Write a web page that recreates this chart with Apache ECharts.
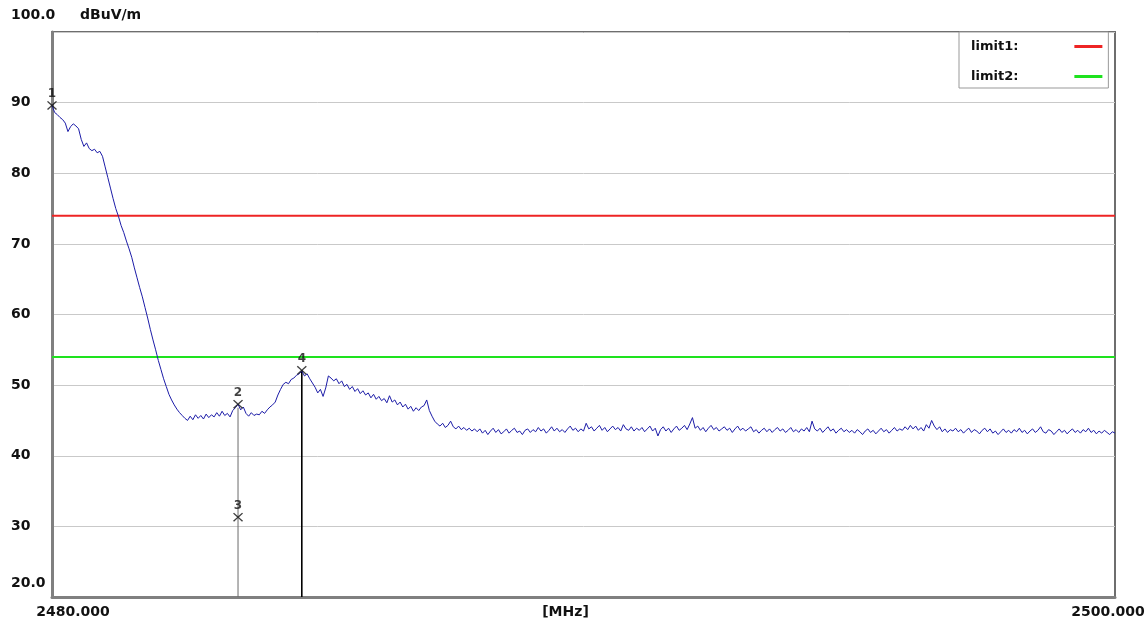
<!DOCTYPE html>
<html>
<head>
<meta charset="utf-8">
<script src="https://cdn.jsdelivr.net/npm/echarts@6/dist/echarts.min.js"></script>
<style>
html,body{margin:0;padding:0;background:#fff;}
#chart{width:1147px;height:625px;}
</style>
</head>
<body>
<div id="chart"></div>
<script>
// ---- data ----
const FREQ_START = 2480.0;   // MHz, first sweep point
const FREQ_STEP = 0.05;      // MHz between sweep points
const FREQ_MIN = 2480, FREQ_MAX = 2500;
const LEVEL_MIN = 20, LEVEL_MAX = 100;

const traceLevels = [
 89.6,88.6,88.3,87.9,87.6,87.1,85.9,86.6,87.0,86.7,86.3,84.8,83.8,84.3,83.5,83.2,83.4,82.9,83.1,82.4,
 80.9,79.4,77.9,76.4,75.0,73.9,72.6,71.6,70.4,69.3,68.1,66.6,65.2,63.8,62.5,61.0,59.5,57.9,56.4,55.0,
 53.5,52.2,50.9,49.8,48.7,47.9,47.2,46.6,46.1,45.7,45.3,45.0,45.6,45.1,45.8,45.3,45.7,45.2,45.9,45.4,
 45.8,45.5,46.1,45.6,46.3,45.7,46.0,45.5,46.4,46.8,47.3,46.5,46.9,46.0,45.6,46.1,45.7,45.9,45.8,46.3,
 46.0,46.5,46.9,47.2,47.6,48.6,49.4,50.1,50.4,50.2,50.8,51.0,51.4,51.6,52.0,51.3,51.6,50.9,50.3,49.7,
 48.9,49.4,48.4,49.6,51.3,51.0,50.6,50.9,50.2,50.6,49.8,50.1,49.4,49.8,49.1,49.5,48.8,49.2,48.6,48.9,
 48.2,48.7,48.0,48.4,47.8,48.1,47.5,48.5,47.6,47.9,47.2,47.6,46.9,47.3,46.6,47.0,46.3,46.8,46.4,46.9,
 47.1,47.9,46.4,45.6,44.9,44.5,44.2,44.6,44.0,44.3,44.9,44.1,43.8,44.2,43.7,44.0,43.6,43.9,43.5,43.8,
 43.4,
 43.8,43.2,43.6,43.0,43.5,43.9,43.3,43.7,43.1,43.4,43.8,43.2,43.6,43.9,43.3,43.5,43.0,43.6,43.8,43.3,
 43.7,43.4,44.0,43.5,43.8,43.2,43.6,44.1,43.5,43.9,43.4,43.7,43.3,43.8,44.2,43.6,43.9,43.4,43.8,43.5,
 44.6,43.8,44.1,43.5,43.9,44.3,43.6,44.0,43.4,43.8,44.2,43.7,44.0,43.5,44.4,43.8,43.6,44.1,43.5,43.9,
 43.6,44.0,43.4,43.8,44.2,43.5,43.9,42.8,43.7,44.1,43.5,43.9,43.3,43.8,44.2,43.6,43.9,44.3,43.7,44.5,
 45.4,43.9,44.2,43.6,44.0,43.4,43.9,44.3,43.7,44.0,43.5,43.8,44.1,43.6,43.9,43.3,43.8,44.2,43.6,43.9,
 43.5,43.8,44.1,43.4,43.7,43.2,43.6,43.9,43.4,43.8,43.3,43.7,44.0,43.5,43.8,43.3,43.6,44.0,43.4,43.7,
 43.3,43.8,43.5,44.0,43.4,44.9,43.8,43.5,43.9,43.3,43.7,44.1,43.5,43.8,43.2,43.6,43.9,43.4,43.7,43.3,
 43.6,43.2,43.7,43.4,43.0,43.5,43.8,43.3,43.6,43.1,43.5,43.9,43.4,43.7,43.2,43.6,44.0,43.5,43.8,43.6,
 44.1,43.7,44.3,43.8,44.2,43.6,44.0,43.5,44.4,43.9,45.0,44.2,43.7,44.1,43.4,43.8,43.3,43.7,43.5,43.9,
 43.4,43.7,43.2,43.6,43.9,43.3,43.7,43.5,43.1,43.6,43.9,43.4,43.8,43.2,43.5,43.0,43.4,43.8,43.3,43.6,
 43.2,43.7,43.4,43.9,43.3,43.6,43.1,43.5,43.8,43.3,43.6,44.1,43.4,43.2,43.7,43.5,43.0,43.4,43.8,43.3,
 43.6,43.1,43.5,43.8,43.3,43.6,43.2,43.7,43.4,43.9,43.3,43.6,43.1,43.5,43.2,43.6,43.3,43.0,43.4,43.2
];

const limitNames = ['limit1:', 'limit2:'];
const limitLevels = [74, 54];
const limitColors = ['#ee2424', '#1ee21e'];

const markerIds = ['1', '2', '3', '4'];
const markerFreqs = [2480.0, 2483.5, 2483.5, 2484.7];
const markerLevels = [89.6, 47.3, 31.3, 52.1];

const xTickLabels = {2480: '2480.000', 2500: '2500.000'};
const yTickLabels = {20: '20.0', 30: '30', 40: '40', 50: '50', 60: '60', 70: '70', 80: '80', 90: '90', 100: '100.0'};
const xAxisName = '[MHz]';
const yAxisName = 'dBuV/m';

// ---- build ----
const traceData = traceLevels.map((v, i) => [+(FREQ_START + i * FREQ_STEP).toFixed(2), v]);
const FONT = 'DejaVu Sans';

const chart = echarts.init(document.getElementById('chart'), null, {renderer: 'canvas'});

const series = [];
limitNames.forEach((n, i) => {
  series.push({
    name: n, type: 'line', symbol: 'none', silent: true, z: 2,
    data: [[FREQ_MIN, limitLevels[i]], [FREQ_MAX, limitLevels[i]]],
    lineStyle: {color: limitColors[i], width: 2},
    itemStyle: {color: limitColors[i]}
  });
});
series.push({
  name: 'trace', type: 'line', symbol: 'none', z: 3, data: traceData,
  lineStyle: {color: '#1c1ca8', width: 1}
});
// marker drop lines (marker 2 and marker 4)
series.push({
  name: 'drop2', type: 'line', symbol: 'none', z: 2,
  data: [[markerFreqs[1], markerLevels[1] - 0.5], [markerFreqs[1], LEVEL_MIN]],
  lineStyle: {color: '#6a6a6a', width: 1}
});
series.push({
  name: 'drop4', type: 'line', symbol: 'none', z: 2,
  data: [[markerFreqs[3], markerLevels[3]], [markerFreqs[3], LEVEL_MIN]],
  lineStyle: {color: '#000', width: 1.6}
});
series.push({
  name: 'markers', type: 'scatter', z: 5, clip: false,
  symbol: 'path://M1,0 L5,4 L9,0 L10,1 L6,5 L10,9 L9,10 L5,6 L1,10 L0,9 L4,5 L0,1 Z',
  symbolSize: [10, 9],
  itemStyle: {color: '#111'},
  data: markerIds.map((id, i) => [markerFreqs[i], markerLevels[i]]),
  label: {
    show: true, position: 'top', distance: 1,
    formatter: p => markerIds[p.dataIndex],
    fontFamily: FONT, fontSize: 12, fontWeight: 'bold', color: '#111'
  }
});

chart.setOption({
  animation: false,
  backgroundColor: '#fff',
  grid: {left: 52, right: 32, top: 32, bottom: 28, outerBoundsMode: 'none', containLabel: false,
         show: true, borderColor: '#6e6e6e', borderWidth: 2, backgroundColor: '#fff'},
  legend: {
    data: limitNames,
    orient: 'vertical', align: 'right',
    left: 959, top: 32,
    padding: [8, 6, 5, 12], itemGap: 17,
    itemWidth: 28, itemHeight: 3, icon: 'rect',
    backgroundColor: '#fff', borderColor: '#999', borderWidth: 1,
    selectedMode: false,
    textStyle: {fontFamily: FONT, fontSize: 13, fontWeight: 'bold', color: '#111', padding: [0, 51, 0, 0]}
  },
  xAxis: {
    type: 'value', min: FREQ_MIN, max: FREQ_MAX, interval: 10,
    name: xAxisName, nameLocation: 'middle', nameGap: 15, nameMoveOverlap: false,
    nameTextStyle: {fontFamily: FONT, fontSize: 14, fontWeight: 'bold', color: '#111', verticalAlign: 'middle', padding: [0, 36, 0, 0]},
    axisLine: {show: true, lineStyle: {color: '#808080', width: 3}},
    axisTick: {show: false},
    splitLine: {show: false},
    axisLabel: {
      showMinLabel: true, showMaxLabel: true, margin: 8,
      formatter: v => {
        if (v === FREQ_MIN) return '{l|' + xTickLabels[v] + '}';
        if (v === FREQ_MAX) return '{r|' + xTickLabels[v] + '}';
        return '';
      },
      rich: {
        l: {fontFamily: FONT, fontSize: 14, fontWeight: 'bold', color: '#111', padding: [0, 0, 0, 42]},
        r: {fontFamily: FONT, fontSize: 14, fontWeight: 'bold', color: '#111', padding: [0, 14, 0, 0]}
      }
    }
  },
  yAxis: {
    type: 'value', min: LEVEL_MIN, max: LEVEL_MAX, interval: 10,
    name: yAxisName, nameLocation: 'end', nameGap: 17, nameMoveOverlap: false,
    nameTextStyle: {fontFamily: FONT, fontSize: 14, fontWeight: 'bold', color: '#111', align: 'left', verticalAlign: 'middle', padding: [0, 0, 0, 28]},
    axisLine: {show: true, lineStyle: {color: '#808080', width: 3}},
    axisTick: {show: false},
    splitLine: {show: true, lineStyle: {color: '#c9c9c9', width: 1}},
    axisLabel: {
      showMinLabel: true, showMaxLabel: true,
      align: 'left', margin: 41,
      formatter: v => {
        if (v === LEVEL_MAX) return '{t|' + yTickLabels[v] + '}';
        if (v === LEVEL_MIN) return '{b|' + yTickLabels[v] + '}';
        return '{n|' + yTickLabels[v] + '}';
      },
      rich: {
        n: {fontFamily: FONT, fontSize: 14, fontWeight: 'bold', color: '#111'},
        t: {fontFamily: FONT, fontSize: 14, fontWeight: 'bold', color: '#111', padding: [0, 0, 34, 0]},
        b: {fontFamily: FONT, fontSize: 14, fontWeight: 'bold', color: '#111', padding: [0, 0, 28, 0]}
      }
    }
  },
  series: series
});
</script>
</body>
</html>
